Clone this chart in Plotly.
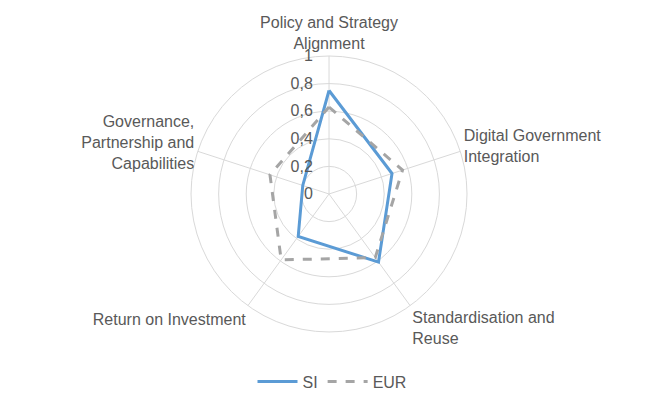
import plotly.graph_objects as go

categories = ["Policy and Strategy<br>Alignment", "Digital Government<br>Integration",
              "Standardisation and<br>Reuse", "Return on Investment",
              "Governance,<br>Partnership and<br>Capabilities"]
si_values = [0.75, 0.48, 0.61, 0.38, 0.20]
eur_values = [0.63, 0.56, 0.57, 0.59, 0.45]

grid = "#d9d9d9"
txt = "#595959"

fig = go.Figure()
fig.add_trace(go.Scatterpolar(r=si_values + si_values[:1], theta=categories + categories[:1],
                              mode="lines", name="SI",
                              line=dict(color="#5B9BD5", width=3)))
fig.add_trace(go.Scatterpolar(r=eur_values + eur_values[:1], theta=categories + categories[:1],
                              mode="lines", name="EUR",
                              line=dict(color="#A5A5A5", width=3, dash="dash")))

dx = 8 / 648
dy = 7 / 404
fig.update_layout(
    width=648, height=404,
    margin=dict(l=0, r=0, t=0, b=0),
    paper_bgcolor="white",
    separators=",.",
    font=dict(family="Liberation Sans, Arial, sans-serif", size=16, color=txt),
    polar=dict(
        domain=dict(x=[0.2948 - dx, 0.7207 - dx], y=[0.1807 + dy, 0.8639 + dy]),
        bgcolor="white",
        radialaxis=dict(range=[0, 1], dtick=0.2, angle=90, side="counterclockwise",
                        tickangle=90, ticksuffix="\u00a0\u00a0\u00a0",
                        showline=False, ticks="", gridcolor=grid, gridwidth=1,
                        tickfont=dict(size=16, color=txt)),
        angularaxis=dict(rotation=90, direction="clockwise", showline=True,
                         linecolor=grid, linewidth=1, gridcolor=grid, ticks="",
                         tickfont=dict(size=16, color=txt)),
    ),
    legend=dict(orientation="h", x=0.5, xanchor="center", y=0.075, yanchor="middle",
                itemwidth=40, font=dict(size=16, color=txt)),
)

fig.write_html("out.html")
